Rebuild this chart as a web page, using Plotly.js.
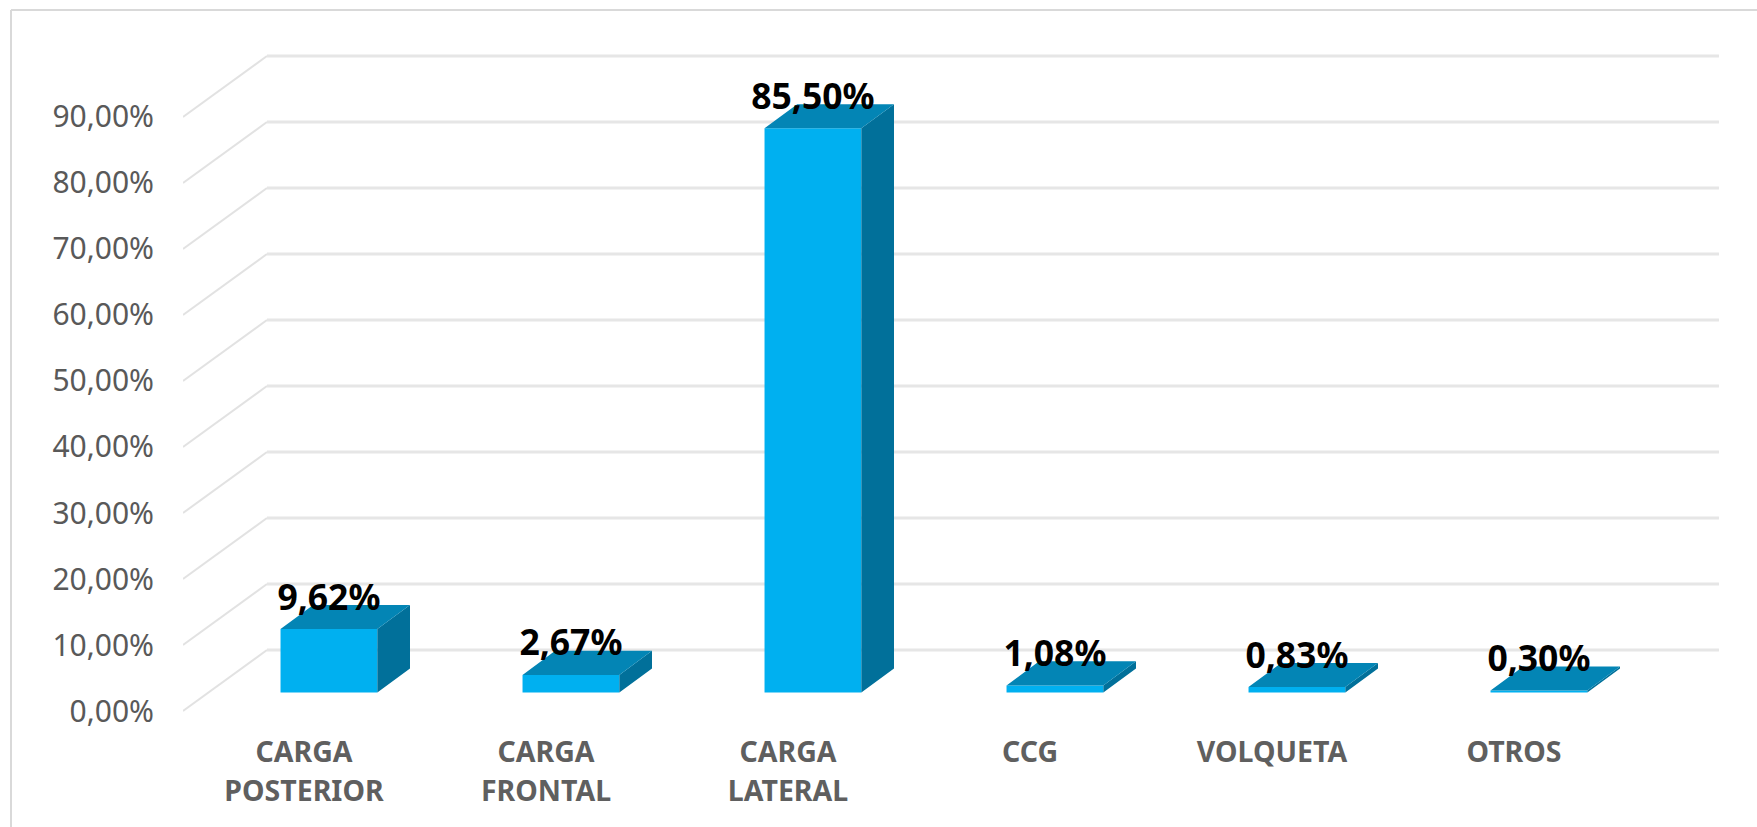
<!DOCTYPE html>
<html><head><meta charset="utf-8">
<script src="https://cdn.plot.ly/plotly-3.0.1.min.js"></script>
<style>html,body{margin:0;padding:0;background:#fff}</style></head>
<body><div id="chart" style="width:1757px;height:827px"></div>
<script>
const categories = ['CARGA<br>POSTERIOR','CARGA<br>FRONTAL','CARGA<br>LATERAL','CCG','VOLQUETA','OTROS'];
const shares = [9.62, 2.67, 85.50, 1.08, 0.83, 0.30];
const yTicks = [0,10,20,30,40,50,60,70,80,90];

// pseudo-3D projection, in axis units
const wallDX = 0.347, wallDY = 9.24;   // front plane -> back wall
const planeDX = 0.103, planeDY = 2.8;  // front plane -> bar front faces
const barDX = 0.135, barDY = 3.64;     // bar depth
const barW = 0.40;
const W = 1757, H = 827;

const fmt = v => v.toFixed(2).replace('.', ',') + '%';
const idx = categories.map((_, i) => i);
const catSpan = t => t.split('<br>').map(s => `<span style="font-size:28.5px">${s}</span>`).join('<br>');

const sideX = [], sideY = [], topX = [], topY = [];
shares.forEach((v, i) => {
  const l = i + planeDX - barW / 2, r = i + planeDX + barW / 2, b = planeDY, t = planeDY + v;
  sideX.push(r, r + barDX, r + barDX, r, r, null);
  sideY.push(b, b + barDY, t + barDY, t, b, null);
  topX.push(l, l + barDX, r + barDX, r, l, null);
  topY.push(t, t + barDY, t + barDY, t, t, null);
});

const shapes = [];
yTicks.forEach(v => {
  shapes.push({type:'line', layer:'below', xref:'x', yref:'y', x0:-0.5, y0:v, x1:-0.5 + wallDX, y1:v + wallDY,
    line:{color:'#E2E2E2', width:2}});
  shapes.push({type:'line', layer:'below', xref:'x', yref:'y', x0:-0.5 + wallDX, y0:v + wallDY, x1:5.5 + wallDX, y1:v + wallDY,
    line:{color:'#E6E6E6', width:3}});
});
// outer frame of the picture (cut at the right and bottom)
shapes.push({type:'line', layer:'below', xref:'paper', yref:'paper', x0:11/W, y0:1 - 10/H, x1:1, y1:1 - 10/H, line:{color:'#D9D9D9', width:2}});
shapes.push({type:'line', layer:'below', xref:'paper', yref:'paper', x0:11/W, y0:1 - 10/H, x1:11/W, y1:0, line:{color:'#D9D9D9', width:2}});

const traces = [
  {type:'bar', x:idx.map(i => i + planeDX), y:shares, base:planeDY, width:barW, marker:{color:'#00B0F0', line:{width:0}}, hoverinfo:'skip'},
  {type:'scatter', mode:'lines', x:sideX, y:sideY, fill:'toself', fillcolor:'#01709A', line:{width:0, color:'#01709A'}, hoverinfo:'skip'},
  {type:'scatter', mode:'lines', x:topX, y:topY, fill:'toself', fillcolor:'#0385B5', line:{width:0, color:'#0385B5'}, hoverinfo:'skip'},
  {type:'scatter', mode:'text', x:idx.map(i => i + planeDX), y:shares.map(v => v + planeDY + 4.3), text:shares.map(fmt),
    textposition:'middle center', textfont:{family:'"Noto Sans", sans-serif', size:35.5, color:'#000', weight:700}, cliponaxis:false, hoverinfo:'skip'}
];

const layout = {
  width:W, height:H, autosize:false, showlegend:false,
  paper_bgcolor:'#fff', plot_bgcolor:'rgba(0,0,0,0)',
  margin:{l:0, r:0, t:0, b:0}, barmode:'overlay',
  xaxis:{domain:[183/W, 1722/W], range:[-0.5, 5.8595], tickmode:'array', tickvals:idx, ticktext:categories.map(catSpan),
    showgrid:false, zeroline:false, showline:false, ticks:'', ticklabelstandoff:17,
    tickangle:0, tickfont:{family:'"Noto Sans", sans-serif', size:30, color:'#5F5F5F', weight:700}},
  yaxis:{domain:[113/H, 775/H], range:[-0.4545, 99.846], tickmode:'array', tickvals:yTicks, ticktext:yTicks.map(fmt),
    showgrid:false, zeroline:false, showline:false, ticks:'', ticklabelstandoff:28,
    tickfont:{family:'"Noto Sans", sans-serif', size:30, color:'#595959'}},
  shapes
};
Plotly.newPlot('chart', traces, layout, {displayModeBar:false, staticPlot:true});
</script></body></html>
